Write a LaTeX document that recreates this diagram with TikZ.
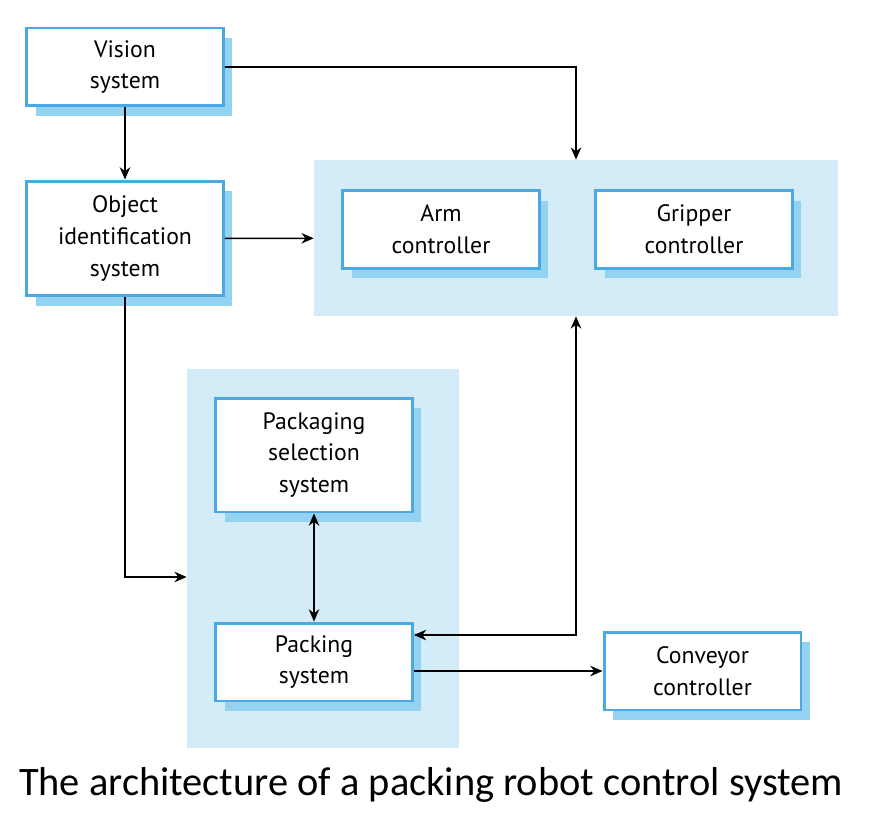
\documentclass[tikz,border=0pt]{standalone}
\usepackage{fontspec}
\setmainfont{PT Sans}
\newfontfamily\captionfont{Carlito}
\usetikzlibrary{arrows.meta,shadows}
\definecolor{boxblue}{RGB}{74,168,228}
\definecolor{shadowblue}{RGB}{148,210,242}
\definecolor{groupblue}{RGB}{212,236,248}
\tikzset{
  sysbox/.style={draw=boxblue, line width=1.7pt, fill=white, align=center,
    minimum width=3.94cm, minimum height=1.56cm, inner sep=0pt,
    font=\fontsize{13.5}{18}\selectfont,
    drop shadow={shadow xshift=0.18cm, shadow yshift=-0.2cm, fill=shadowblue, opacity=1}},
  groupbg/.style={fill=groupblue, draw=none, inner sep=0pt},
  link/.style={line width=0.8pt, -{Stealth[length=7pt,width=6pt]}},
  dlink/.style={line width=0.8pt, {Stealth[length=7pt,width=6pt]}-{Stealth[length=7pt,width=6pt]}}
}
\begin{document}
\begin{tikzpicture}[x=0.02cm,y=-0.02cm]
\useasboundingbox (0,0) rectangle (878,824);
% groups
\node[groupbg, minimum width=10.48cm, minimum height=3.12cm] (ctrl) at (576,238) {};
\node[groupbg, minimum width=5.44cm, minimum height=7.58cm] (pack) at (323,558.5) {};
% boxes
\node[sysbox] (vision) at (125,67) {Vision\\system};
\node[sysbox, minimum height=2.3cm] (object) at (125,238.5) {Object\\identification\\system};
\node[sysbox] (arm) at (441,229.5) {Arm\\controller};
\node[sysbox] (gripper) at (694,229.5) {Gripper\\controller};
\node[sysbox, minimum height=2.28cm] (select) at (314,455) {Packaging\\selection\\system};
\node[sysbox] (packing) at (314,662) {Packing\\system};
\node[sysbox] (conveyor) at (702.5,671) {Conveyor\\controller};
% connectors
\coordinate (toctrl) at (576,67);
\coordinate (down) at (125,577);
\coordinate (back) at (576,635);
\draw[link] (vision) -- (object);
\draw[link] (vision.east |- toctrl) -- (toctrl) -- (ctrl.north -| toctrl);
\draw[link] (object) -- (ctrl);
\draw[link] (object.south) -- (down) -- (down -| pack.west);
\draw[dlink] (select) -- (packing);
\draw[dlink] (ctrl.south -| back) -- (back) -- (back -| packing.east);
\draw[link] (packing.east |- conveyor) -- (conveyor);
% caption
\node[font=\captionfont\fontsize{23}{27}\selectfont] (title) at (431,785) {The architecture of a packing robot control system};
\end{tikzpicture}
\end{document}
